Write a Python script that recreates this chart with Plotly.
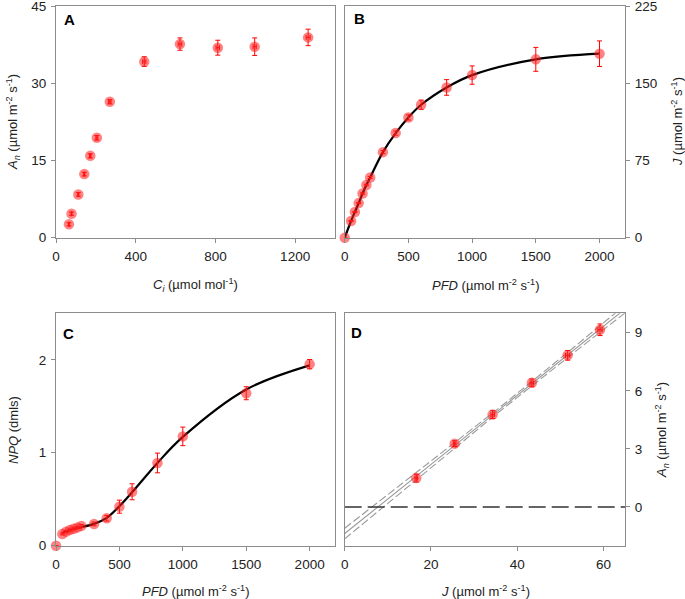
import numpy as np
import plotly.graph_objects as go

# ---------------- data ----------------
# Panel A: An vs Ci
ci = [65, 78, 112, 142, 172, 205, 270, 443, 622, 812, 997, 1265]
ci_err = [2, 2, 3, 3, 4, 5, 6, 8, 9, 9, 8, 10]
an_a = [2.6, 4.66, 8.4, 12.35, 15.9, 19.4, 26.4, 34.2, 37.6, 36.9, 37.1, 38.9]
an_a_err = [0.3, 0.3, 0.35, 0.35, 0.4, 0.45, 0.4, 0.94, 1.2, 1.45, 1.7, 1.6]

# Panel B: J vs PFD
pfd = [0, 50, 80, 110, 140, 170, 200, 300, 400, 500, 600, 800, 1000, 1500, 2000]
j_b = [0, 16.2, 25, 33.6, 42.9, 51.1, 58.5, 83.1, 101.6, 116.8, 129.1, 145.9, 157.9, 173.2, 178.7]
j_b_err = [0, 0.5, 0.5, 0.6, 0.7, 0.8, 1, 1.5, 2, 2.5, 4.5, 7.6, 8.9, 11.6, 12.4]

# Panel C: NPQ vs PFD
npq = [0, 0.126, 0.151, 0.17, 0.183, 0.197, 0.213, 0.234, 0.295, 0.42, 0.58, 0.89, 1.176, 1.64, 1.953]
npq_err = [0, 0.01, 0.01, 0.01, 0.01, 0.01, 0.015, 0.02, 0.03, 0.07, 0.086, 0.106, 0.1, 0.07, 0.05]
pfd_fit = [50, 80, 110, 140, 170, 200, 300, 400, 500, 600, 800, 1000, 1500, 2000]
npq_fit = [0.135, 0.155, 0.168, 0.18, 0.19, 0.2, 0.235, 0.3, 0.425, 0.575, 0.89, 1.17, 1.68, 1.94]

# Panel D: An vs J (low light)
j_d = [16.6, 25.5, 34.3, 43.4, 51.7, 59.2]
j_d_err = [0.3, 0.3, 0.4, 0.4, 0.5, 0.5]
an_d = [1.49, 3.27, 4.77, 6.41, 7.83, 9.15]
an_d_err = [0.2, 0.15, 0.2, 0.2, 0.25, 0.3]

# ---------------- style ----------------
FONT = "Liberation Sans, Arial, sans-serif"
RED = "red"
MK = dict(color="rgba(255,30,30,0.55)", size=10.5, line=dict(width=0))
W, H = 685, 599
AXC = "#8c8c8c"


def px(x):
    return x / W


def py(y):
    return 1 - y / H


def err(arr):
    return dict(type="data", array=arr, color=RED, thickness=1, width=2.5)


fig = go.Figure()

# A
fig.add_trace(go.Scatter(x=ci, y=an_a, mode="markers", marker=MK, cliponaxis=False,
                         error_y=err(an_a_err), error_x=err(ci_err), xaxis="x", yaxis="y"))
# B
fig.add_trace(go.Scatter(x=pfd, y=j_b, mode="lines", line=dict(color="black", width=2.2, shape="spline"),
                         xaxis="x2", yaxis="y2"))
fig.add_trace(go.Scatter(x=pfd, y=j_b, mode="markers", marker=MK, cliponaxis=False,
                         error_y=err(j_b_err), xaxis="x2", yaxis="y2"))
# C
fig.add_trace(go.Scatter(x=pfd_fit, y=npq_fit, mode="lines", line=dict(color="black", width=2.2, shape="spline"),
                         xaxis="x3", yaxis="y3"))
fig.add_trace(go.Scatter(x=pfd, y=npq, mode="markers", marker=MK, cliponaxis=False,
                         error_y=err(npq_err), xaxis="x3", yaxis="y3"))

# D: linear regression with confidence band
xd = np.array(j_d)
yd = np.array(an_d)
slope, icpt = np.polyfit(xd, yd, 1)
xg = np.linspace(0, 65, 200)
yg = icpt + slope * xg
sxx = np.sum((xd - xd.mean()) ** 2)
band_scale = 0.24
half = band_scale * np.sqrt(1 / len(xd) + (xg - xd.mean()) ** 2 / sxx)
for yy, dash in [(yg + half, "8px,3px"), (yg - half, "8px,3px"), (yg, "solid")]:
    fig.add_trace(go.Scatter(x=xg, y=yy, mode="lines", line=dict(color="#999999", width=1.1, dash=dash),
                             xaxis="x4", yaxis="y4"))
fig.add_trace(go.Scatter(x=[0, 65], y=[0, 0], mode="lines",
                         line=dict(color="#333333", width=1.5, dash="17px,6px"),
                         xaxis="x4", yaxis="y4"))
fig.add_trace(go.Scatter(x=j_d, y=an_d, mode="markers", marker=MK, cliponaxis=False,
                         error_y=err(an_d_err), error_x=err(j_d_err), xaxis="x4", yaxis="y4"))

ax = dict(showline=True, linecolor=AXC, linewidth=1, mirror=True, ticks="outside", ticklen=4,
          tickcolor=AXC, showgrid=False, zeroline=False, automargin=False,
          ticklabeloverflow="allow", ticklabelstandoff=2,
          tickfont=dict(family=FONT, size=13.5, color="#222"))

xdomL = [px(56), px(335)]
xdomR = [px(344.7), px(625)]
ydomT = [py(237.7), py(6)]
ydomB = [py(545.7), py(313.3)]

fig.update_layout(
    width=W, height=H, margin=dict(l=0, r=0, t=0, b=0),
    paper_bgcolor="white", plot_bgcolor="white", showlegend=False,
    font=dict(family=FONT, size=13, color="#222"),
    xaxis=dict(ax, domain=xdomL, anchor="y", range=[0, 1400], tickvals=[0, 400, 800, 1200]),
    yaxis=dict(ax, domain=ydomT, anchor="x", range=[0, 45], tickvals=[0, 15, 30, 45]),
    xaxis2=dict(ax, domain=xdomR, anchor="y2", range=[0, 2200], tickvals=[0, 500, 1000, 1500, 2000]),
    yaxis2=dict(ax, domain=ydomT, anchor="x2", side="right", range=[0, 225], tickvals=[0, 75, 150, 225]),
    xaxis3=dict(ax, domain=xdomL, anchor="y3", range=[0, 2200], tickvals=[0, 500, 1000, 1500, 2000]),
    yaxis3=dict(ax, domain=ydomB, anchor="x3", range=[0, 2.5], tickvals=[0, 1, 2]),
    xaxis4=dict(ax, domain=xdomR, anchor="y4", range=[0, 65], tickvals=[0, 20, 40, 60]),
    yaxis4=dict(ax, domain=ydomB, anchor="x4", side="right", range=[-2, 10], tickvals=[0, 3, 6, 9]),
)

UNIT = " (µmol m<sup>-2</sup> s<sup>-1</sup>)"
ann = [
    ("<b>A</b>", 69, 20, 0, 15),
    ("<b>B</b>", 359, 19, 0, 15),
    ("<b>C</b>", 68, 333, 0, 15),
    ("<b>D</b>", 356, 332, 0, 15),
    ("<i>A<sub>n</sub></i>" + UNIT, 13, 122, -90, 13),
    ("<i>C<sub>i</sub></i> (µmol mol<sup>-1</sup>)", 195, 285, 0, 13),
    ("<i>PFD</i>" + UNIT, 485, 285, 0, 13),
    ("<i>J</i>" + UNIT, 677, 122, -90, 13),
    ("<i>NPQ</i> (dmls)", 13, 430, -90, 13),
    ("<i>PFD</i>" + UNIT, 195, 591, 0, 13),
    ("<i>J</i>" + UNIT, 485, 591, 0, 13),
    ("<i>A<sub>n</sub></i>" + UNIT, 662, 430, -90, 13),
]
for text, x, y, ang, size in ann:
    fig.add_annotation(text=text, x=px(x), y=py(y), xref="paper", yref="paper",
                       showarrow=False, textangle=ang, xanchor="center", yanchor="middle",
                       font=dict(family=FONT, size=size, color="black" if size > 13 else "#222"))

fig.write_html("out.html", config={"displayModeBar": False},
               post_script="document.body.style.margin='0';document.body.style.overflow='hidden';")
